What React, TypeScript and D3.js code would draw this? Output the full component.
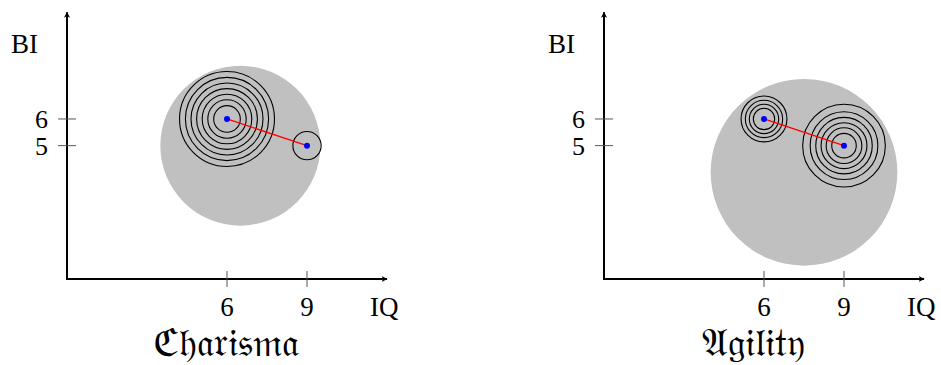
import React from "react";
import * as d3 from "d3";

// Panel titles and shared axis labels
const panelTitles = ["ℭ𝔥𝔞𝔯𝔦𝔰𝔪𝔞", "𝔄𝔤𝔦𝔩𝔦𝔱𝔶"];
const xTicks = [6, 9];
const yTicks = [6, 5];
const xLabel = "IQ";
const yLabel = "BI";

// The two persons being compared (IQ, BI)
const pointA = [6, 6];
const pointB = [9, 5];

// Enclosing grey disc per panel: [cx, cy, r]
const enclosing = [
  [6.5, 5, 3],
  [7.5, 4, 3.5],
];

// Concentric ring radii around A and B, per panel
const ringsA = [
  [0.5, 0.72, 0.93, 1.14, 1.35, 1.56, 1.78],
  [0.4, 0.55, 0.7, 0.86],
];
const ringsB = [
  [0.53],
  [0.46, 0.67, 0.86, 1.06, 1.27, 1.55],
];

// Layout
const panelOrigins = [67, 604];
const titleCenters = [226, 753];
const W = 941;
const H = 365;
const font = "'Liberation Serif', 'DejaVu Serif', serif";

function Panel({ i }: { i: number }) {
  const ox = panelOrigins[i];
  const x = d3.scaleLinear().domain([0, 12]).range([ox, ox + 320]);
  const y = d3.scaleLinear().domain([0, 10]).range([279, 12.3]);
  const unit = x(1) - x(0);
  const [ecx, ecy, er] = enclosing[i];
  const aid = `arrow${i}`;
  return (
    <g>
      <defs>
        <marker id={aid} viewBox="0 0 10 10" refX="9" refY="5" markerWidth="6" markerHeight="6" orient="auto" markerUnits="userSpaceOnUse">
          <path d="M0,0 L10,5 L0,10 L2.5,5 Z" fill="#000" />
        </marker>
      </defs>
      <circle cx={x(ecx)} cy={y(ecy)} r={er * unit} fill="#c0c0c0" />
      {ringsA[i].map((r, k) => (
        <circle key={"a" + k} cx={x(pointA[0])} cy={y(pointA[1])} r={r * unit} fill="none" stroke="#000" strokeWidth={1.1} />
      ))}
      {ringsB[i].map((r, k) => (
        <circle key={"b" + k} cx={x(pointB[0])} cy={y(pointB[1])} r={r * unit} fill="none" stroke="#000" strokeWidth={1.1} />
      ))}
      <line x1={x(pointA[0])} y1={y(pointA[1])} x2={x(pointB[0])} y2={y(pointB[1])} stroke="#ff0000" strokeWidth={1.3} />
      <circle cx={x(pointA[0])} cy={y(pointA[1])} r={3} fill="#0000ff" />
      <circle cx={x(pointB[0])} cy={y(pointB[1])} r={3} fill="#0000ff" />

      {/* axes */}
      <line x1={x(0)} y1={y(0)} x2={x(0)} y2={y(10)} stroke="#000" strokeWidth={2} markerEnd={`url(#${aid})`} />
      <line x1={x(0) - 1} y1={y(0)} x2={x(12)} y2={y(0)} stroke="#000" strokeWidth={2} markerEnd={`url(#${aid})`} />

      {xTicks.map((t) => (
        <g key={"x" + t}>
          <line x1={x(t)} x2={x(t)} y1={y(0) - 8} y2={y(0) + 8} stroke="#555" strokeWidth={1} />
          <text x={x(t)} y={y(0) + 37} textAnchor="middle" fontFamily={font} fontSize={27}>{t}</text>
        </g>
      ))}
      {yTicks.map((t) => (
        <g key={"y" + t}>
          <line x1={x(0) - 9} x2={x(0) + 9} y1={y(t)} y2={y(t)} stroke="#555" strokeWidth={1} />
          <text x={x(0) - 19} y={y(t)} dy="0.35em" textAnchor="end" fontFamily={font} fontSize={26}>{t}</text>
        </g>
      ))}
      <text x={x(0) - 56} y={53} fontFamily={font} fontSize={27}>{yLabel}</text>
      <text x={x(12) - 17} y={y(0) + 37} fontFamily={font} fontSize={27}>{xLabel}</text>
      <text x={titleCenters[i]} y={356} textAnchor="middle" fontFamily={font} fontSize={39}>{panelTitles[i]}</text>
    </g>
  );
}

export default function App() {
  return (
    <svg width={W} height={H} style={{ position: "absolute", left: 0, top: 0, background: "#fff" }}>
      <Panel i={0} />
      <Panel i={1} />
    </svg>
  );
}
